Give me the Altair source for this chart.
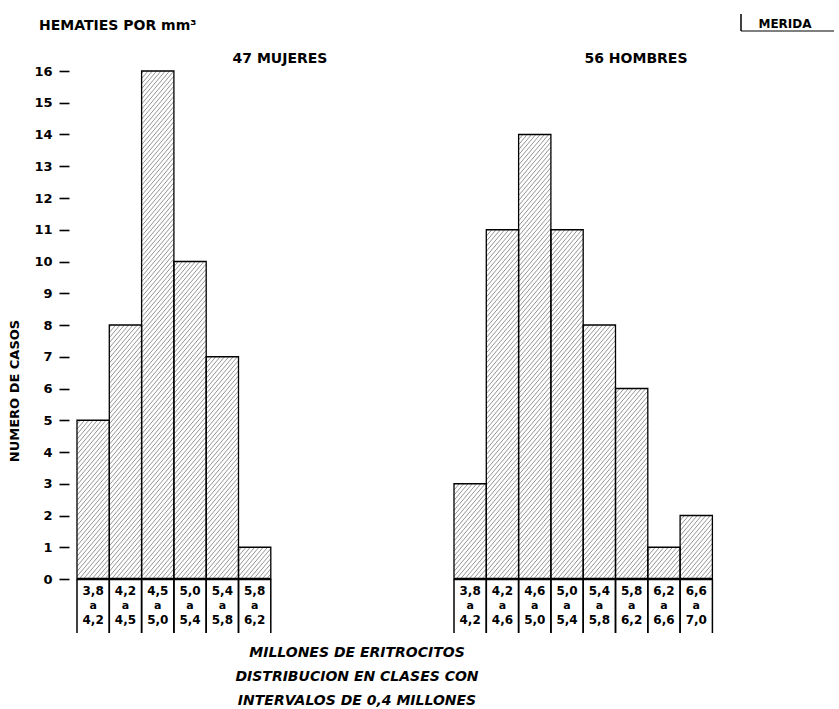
import altair as alt
import pandas as pd

# ---- data ----
w_lo = ["3,8", "4,2", "4,5", "5,0", "5,4", "5,8"]
w_hi = ["4,2", "4,5", "5,0", "5,4", "5,8", "6,2"]
w_counts = [5, 8, 16, 10, 7, 1]

m_lo = ["3,8", "4,2", "4,6", "5,0", "5,4", "5,8", "6,2", "6,6"]
m_hi = ["4,2", "4,6", "5,0", "5,4", "5,8", "6,2", "6,6", "7,0"]
m_counts = [3, 11, 14, 11, 8, 6, 1, 2]

y_ticks = list(range(0, 17))

top_title = ["HEMATIES POR mm³"]
w_title = ["47 MUJERES"]
m_title = ["56 HOMBRES"]
place = ["MERIDA"]
y_title = ["NUMERO DE CASOS"]
bottom_lines = ["MILLONES DE ERITROCITOS",
                "DISTRIBUCION EN CLASES CON",
                "INTERVALOS DE 0,4 MILLONES"]

FONT = "DejaVu Sans"
K = 1.2        # hatch slope (data units)
STEP = 0.16    # hatch spacing (data units)
YMIN = -1.75
UNIT = 31.75
HEIGHT = (16 - YMIN) * UNIT
BARW = 32.3


def txt(values, **kw):
    return alt.Chart(pd.DataFrame({"t": values})).mark_text(
        font=FONT, fontWeight="bold", color="black", **kw)


def panel(lo, hi, counts, show_axis):
    n = len(counts)
    df = pd.DataFrame({"i": list(range(n)), "count": counts, "lo": lo, "hi": hi})
    base = alt.Chart(df).transform_calculate(i2="datum.i + 1", xc="datum.i + 0.5", y0="0")
    xs = alt.Scale(domain=[0, n], nice=False, zero=False)
    ys = alt.Scale(domain=[YMIN, 16], nice=False, zero=False)
    if show_axis:
        yax = alt.Axis(values=y_ticks, domain=False, grid=False, offset=8,
                       tickSize=10, tickWidth=1.6, tickColor="black",
                       labelPadding=7, labelFont=FONT, labelFontWeight="bold",
                       labelFontSize=13, labelColor="black", labelOverlap=False,
                       format="d", title=None)
    else:
        yax = None

    fill = base.mark_rect(fill="white").encode(
        x=alt.X("i:Q", scale=xs, axis=None), x2="i2:Q",
        y=alt.Y("y0:Q", scale=ys, axis=yax), y2="count:Q")

    hatch = base.transform_calculate(
        d=f"sequence(-{K}, datum.count, {STEP})"
    ).transform_flatten(["d"]).transform_calculate(
        u0=f"max(0, -datum.d / {K})",
        u1=f"min(1, (datum.count - datum.d) / {K})",
    ).transform_filter("datum.u1 > datum.u0").transform_calculate(
        hx0="datum.i + datum.u0", hx1="datum.i + datum.u1",
        hy0=f"datum.d + {K} * datum.u0", hy1=f"datum.d + {K} * datum.u1",
    ).mark_rule(color="#7a7a7a", strokeWidth=0.8).encode(
        x=alt.X("hx0:Q", scale=xs, axis=None), x2="hx1:Q",
        y=alt.Y("hy0:Q", scale=ys, axis=yax), y2="hy1:Q")

    outline = base.mark_rect(fillOpacity=0, stroke="black", strokeWidth=1.3).encode(
        x=alt.X("i:Q", scale=xs, axis=None), x2="i2:Q",
        y=alt.Y("y0:Q", scale=ys, axis=yax), y2="count:Q")

    sep_l = base.mark_rule(color="black", strokeWidth=1.5).encode(
        x=alt.X("i:Q", scale=xs, axis=None),
        y=alt.datum(0, scale=ys, axis=yax), y2=alt.datum(-1.7))
    sep_r = base.mark_rule(color="black", strokeWidth=1.5).encode(
        x=alt.X("i2:Q", scale=xs, axis=None),
        y=alt.datum(0, scale=ys, axis=yax), y2=alt.datum(-1.7))

    baseline = base.mark_rule(color="black", strokeWidth=2.6).encode(
        x=alt.X("i:Q", scale=xs, axis=None), x2="i2:Q",
        y=alt.datum(0, scale=ys, axis=yax))

    lab_kw = dict(font=FONT, fontWeight="bold", color="black", fontSize=12,
                  baseline="middle", align="center")
    t_lo = base.mark_text(**lab_kw).encode(
        x=alt.X("xc:Q", scale=xs, axis=None),
        y=alt.datum(-0.38, scale=ys, axis=yax), text="lo:N")
    t_a = base.mark_text(**{**lab_kw, "fontSize": 11}).encode(
        x=alt.X("xc:Q", scale=xs, axis=None),
        y=alt.datum(-0.84, scale=ys, axis=yax), text=alt.value("a"))
    t_hi = base.mark_text(**lab_kw).encode(
        x=alt.X("xc:Q", scale=xs, axis=None),
        y=alt.datum(-1.28, scale=ys, axis=yax), text="hi:N")

    return [fill, hatch, outline, sep_l, sep_r, baseline, t_lo, t_a, t_hi], n


w_layers, wn = panel(w_lo, w_hi, w_counts, True)
m_layers, mn = panel(m_lo, m_hi, m_counts, False)

w_ann = [
    txt(top_title, fontSize=14, align="left", baseline="middle").encode(
        text="t:N", x=alt.value(-38), y=alt.value(-45)),
    txt(w_title, fontSize=14, align="center", baseline="middle").encode(
        text="t:N", x=alt.value(203), y=alt.value(-12)),
    txt(y_title, fontSize=13, align="center", baseline="middle", angle=270).encode(
        text="t:N", x=alt.value(-62), y=alt.value(320)),
]
for k, line in enumerate(bottom_lines):
    w_ann.append(txt([line], fontSize=14, fontStyle="italic", align="center",
                     baseline="middle").encode(
        text="t:N", x=alt.value(280), y=alt.value(582 + 24 * k)))

m_ann = [
    txt(m_title, fontSize=14, align="center", baseline="middle").encode(
        text="t:N", x=alt.value(182), y=alt.value(-12)),
    txt(place, fontSize=12, align="center", baseline="middle").encode(
        text="t:N", x=alt.value(331), y=alt.value(-47)),
    alt.Chart(pd.DataFrame({"t": place})).mark_rule(color="black", strokeWidth=1.5).encode(
        x=alt.value(287), y=alt.value(-57), y2=alt.value(-40)),
    alt.Chart(pd.DataFrame({"t": place})).mark_rule(color="black", strokeWidth=1.2).encode(
        x=alt.value(287), x2=alt.value(380), y=alt.value(-40)),
]

left = alt.layer(*w_layers, *w_ann).properties(width=BARW * wn, height=HEIGHT)
right = alt.layer(*m_layers, *m_ann).properties(width=BARW * mn, height=HEIGHT)

chart = alt.hconcat(left, right, spacing=183, bounds="flush").resolve_scale(
    x="independent", y="independent"
).properties(
    padding={"left": 9, "top": 13, "right": 4, "bottom": 2},
    background="white",
).configure_view(stroke=None)

chart.save("out.html", embed_options={"renderer": "svg", "actions": False})
